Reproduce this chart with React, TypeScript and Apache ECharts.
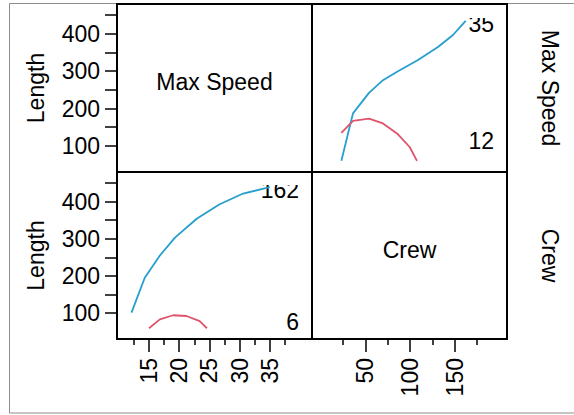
import React, { useEffect, useRef } from "react";
import * as echarts from "echarts";

// ---- data ----
const lengthTickValues = [100, 150, 200, 250, 300, 350, 400, 450];
const lengthLabelValues = [100, 200, 300, 400];
const speedMajor = [15, 20, 25, 30, 35];
const speedMinor = [12.5, 17.5, 22.5, 27.5, 32.5, 37.5];
const crewMajor = [50, 100, 150];
const crewMinor = [25, 75, 125, 175];

const lengthRange = [30, 480];
const speedRange = [9.7, 42];
const crewRange = [-9.8, 208.6];

// top-right panel (x = Crew)
const trBlueX = [23.1, 36.1, 54.0, 69.7, 86.5, 108.9, 131.3, 148.1, 162.3];
const trBlueY = [60, 187, 242, 276, 300, 330, 365, 397, 435];
const trRedX = [23.1, 36.1, 54.0, 69.7, 86.5, 99.6, 107.8];
const trRedY = [135, 167, 173, 160, 131, 97, 60];

// bottom-left panel (x = Max Speed)
const blBlueX = [12.1, 14.3, 16.8, 19.3, 22.9, 26.7, 30.6, 35.0];
const blBlueY = [101, 195, 255, 303, 354, 393, 422, 439];
const blRedX = [15.0, 16.8, 19.0, 21.2, 23.4, 24.6];
const blRedY = [59, 83, 94, 92, 78, 59];

const variableNames = ["Max Speed", "Crew"];
const yTitle = "Length";
const trCornerLabels = ["35", "12"];
const blCornerLabels = ["162", "6"];

const BLUE = "#269ECE";
const RED = "#DF536B";
const FONT = '"Liberation Sans", Arial, Helvetica, sans-serif';
const FS = 23;

const zip = (xs: number[], ys: number[]) => xs.map((x, i) => [x, ys[i]]);

export default function App() {
  const ref = useRef<HTMLDivElement>(null);

  useEffect(() => {
    if (!ref.current) return;
    const chart = echarts.init(ref.current, undefined, { renderer: "svg" });

    const L = 117, W = 195, T = 4, H1 = 168, H2 = 167;
    const rects = [
      { left: L, top: T, width: W, height: H1 },
      { left: L + W, top: T, width: W, height: H1 },
      { left: L, top: T + H1, width: W, height: H2 },
      { left: L + W, top: T + H1, width: W, height: H2 },
      { left: L, top: T + H1, width: W, height: H2 },
      { left: L + W, top: T + H1, width: W, height: H2 },
    ];
    const grid = rects.map((r, i) => ({
      ...r,
      show: i < 4,
      borderColor: "#000",
      borderWidth: 2,
      backgroundColor: "transparent",
      containLabel: false,
      outerBoundsMode: "none",
    }));

    const tickStyle = { color: "#000", width: 1.5 };
    const labelStyle = { color: "#000", fontSize: FS, fontFamily: FONT };
    const hiddenX = (idx: number, range: number[]) => ({
      type: "value", gridIndex: idx, min: range[0], max: range[1], show: false,
    });

    const xAxis: any[] = [
      hiddenX(0, speedRange),
      hiddenX(1, crewRange),
      {
        type: "value", gridIndex: 2, min: speedRange[0], max: speedRange[1],
        position: "bottom",
        axisLine: { show: false },
        splitLine: { show: false },
        axisTick: { show: true, length: 13, customValues: speedMajor, lineStyle: tickStyle },
        axisLabel: { show: true, rotate: 90, margin: 19, customValues: speedMajor, ...labelStyle },
      },
      {
        type: "value", gridIndex: 3, min: crewRange[0], max: crewRange[1],
        position: "bottom",
        axisLine: { show: false },
        splitLine: { show: false },
        axisTick: { show: true, length: 13, customValues: crewMajor, lineStyle: tickStyle },
        axisLabel: { show: true, rotate: 90, margin: 19, customValues: crewMajor, ...labelStyle },
      },
      {
        type: "value", gridIndex: 4, min: speedRange[0], max: speedRange[1],
        position: "bottom",
        axisLine: { show: false },
        splitLine: { show: false },
        axisTick: { show: true, length: 6, customValues: speedMinor, lineStyle: tickStyle },
        axisLabel: { show: false },
      },
      {
        type: "value", gridIndex: 5, min: crewRange[0], max: crewRange[1],
        position: "bottom",
        axisLine: { show: false },
        splitLine: { show: false },
        axisTick: { show: true, length: 6, customValues: crewMinor, lineStyle: tickStyle },
        axisLabel: { show: false },
      },
    ];

    const visibleY = (idx: number) => ({
      type: "value", gridIndex: idx, min: lengthRange[0], max: lengthRange[1],
      position: "left",
      axisLine: { show: false },
      splitLine: { show: false },
      axisTick: { show: true, length: 12, customValues: lengthTickValues, lineStyle: tickStyle },
      axisLabel: { show: true, margin: 17, customValues: lengthLabelValues, ...labelStyle },
    });
    const hiddenY = (idx: number) => ({
      type: "value", gridIndex: idx, min: lengthRange[0], max: lengthRange[1], show: false,
    });
    const yAxis: any[] = [visibleY(0), hiddenY(1), visibleY(2), hiddenY(3), hiddenY(4), hiddenY(5)];

    const line = (xi: number, data: number[][], color: string) => ({
      type: "line", xAxisIndex: xi, yAxisIndex: xi, data,
      symbol: "none", silent: true,
      lineStyle: { color, width: 1.8 },
      z: 3,
    });

    const cx1 = L + W / 2, cx2 = L + W + W / 2;
    const cy1 = T + H1 / 2, cy2 = T + H1 + H2 / 2;
    const text = (t: string, x: number, y: number, align: string, rotation = 0) => ({
      type: "text", x, y, rotation,
      style: {
        text: t, fill: "#000", font: `${FS}px ${FONT}`,
        textAlign: align, textVerticalAlign: "middle",
      },
    });

    const graphic: any[] = [
      { type: "rect", shape: { x: 9.5, y: 3.5, width: 620, height: 409.5 }, style: { fill: "none", stroke: "#8c8c8c", lineWidth: 1 }, z: -1 },
      text(variableNames[0], cx1, cy1 - 6, "center"),
      text(variableNames[1], cx2, cy2 - 6, "center"),
      text(variableNames[0], 550, cy1, "center", -Math.PI / 2),
      text(variableNames[1], 550, cy2, "center", -Math.PI / 2),
      text(yTitle, 36, cy1, "center", Math.PI / 2),
      text(yTitle, 36, cy2, "center", Math.PI / 2),
      text(trCornerLabels[0], L + 2 * W - 13, T + 20, "right"),
      text(trCornerLabels[1], L + 2 * W - 13, T + H1 - 31, "right"),
      text(blCornerLabels[0], L + W - 13, T + H1 + 18, "right"),
      text(blCornerLabels[1], L + W - 13, T + H1 + H2 - 17, "right"),
      { type: "rect", shape: { x: L + 2 * W - 45, y: T + 1.5, width: 40, height: 12.5 }, style: { fill: "#fff" } },
      { type: "rect", shape: { x: L + W - 55, y: T + H1 + 1.5, width: 50, height: 11.5 }, style: { fill: "#fff" } },
    ];

    chart.setOption({
      animation: false,
      backgroundColor: "#fff",
      grid,
      xAxis,
      yAxis,
      series: [
        line(1, zip(trBlueX, trBlueY), BLUE),
        line(1, zip(trRedX, trRedY), RED),
        line(2, zip(blBlueX, blBlueY), BLUE),
        line(2, zip(blRedX, blRedY), RED),
      ],
      graphic,
    } as any);

    return () => chart.dispose();
  }, []);

  return (
    <div
      ref={ref}
      style={{ position: "absolute", left: 0, top: 0, width: 574, height: 415 }}
    />
  );
}
